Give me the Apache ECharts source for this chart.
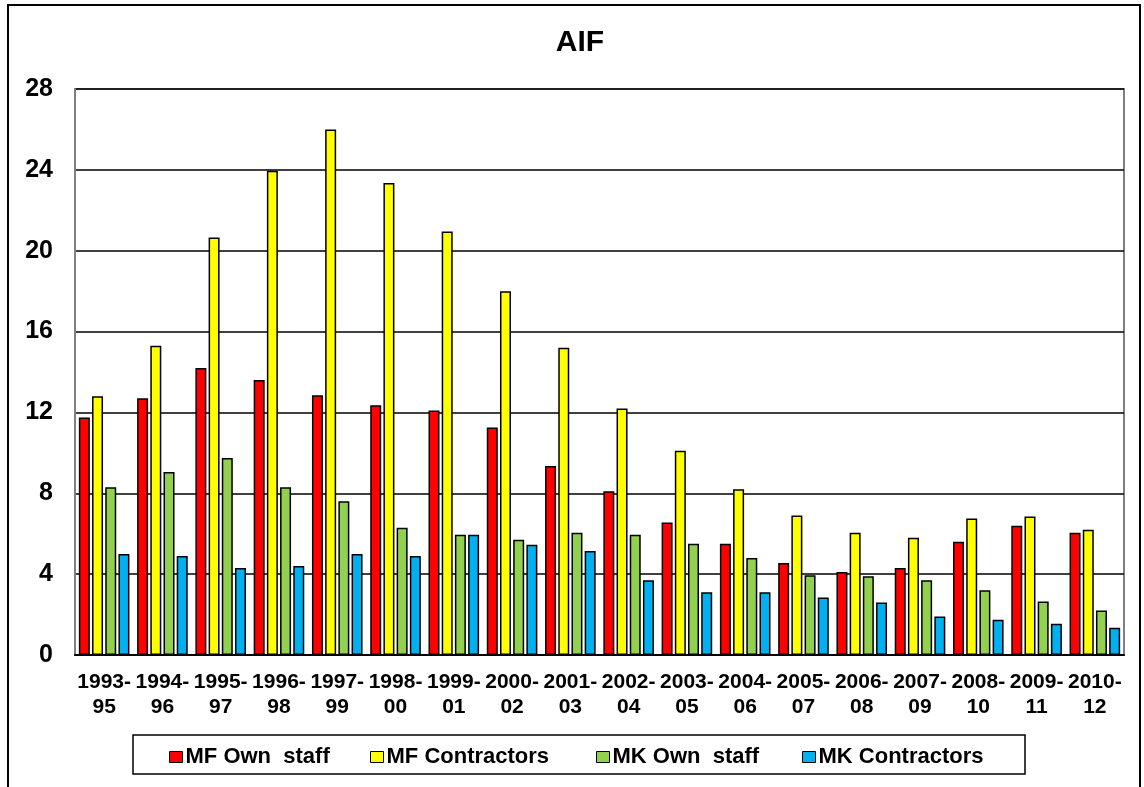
<!DOCTYPE html>
<html>
<head>
<meta charset="utf-8">
<script src="https://cdn.jsdelivr.net/npm/echarts@6/dist/echarts.min.js"></script>
<style>
  html, body { margin: 0; padding: 0; background: #fff; }
  #main { width: 1144px; height: 787px; }
</style>
</head>
<body>
<div id="main"></div>
<script>
// periods on the x axis
const periods = ['1993-\n95', '1994-\n96', '1995-\n97', '1996-\n98', '1997-\n99', '1998-\n00',
  '1999-\n01', '2000-\n02', '2001-\n03', '2002-\n04', '2003-\n05', '2004-\n06',
  '2005-\n07', '2006-\n08', '2007-\n09', '2008-\n10', '2009-\n11', '2010-\n12']

const mfOwnStaff = [11.75, 12.7, 14.2, 13.6, 12.85, 12.35, 12.1, 11.25, 9.35, 8.1, 6.55, 5.5, 4.55, 4.1, 4.3, 5.6, 6.4, 6.05]
const mfContractors = [12.8, 15.3, 20.65, 23.95, 26.0, 23.35, 20.95, 18.0, 15.2, 12.2, 10.1, 8.2, 6.9, 6.05, 5.8, 6.75, 6.85, 6.2]
const mkOwnStaff = [8.3, 9.05, 9.75, 8.3, 7.6, 6.3, 5.95, 5.7, 6.05, 5.95, 5.5, 4.8, 3.95, 3.9, 3.7, 3.2, 2.65, 2.2]
const mkContractors = [5.0, 4.9, 4.3, 4.4, 5.0, 4.9, 5.95, 5.45, 5.15, 3.7, 3.1, 3.1, 2.85, 2.6, 1.9, 1.75, 1.55, 1.35]

const yTicks = [0, 4, 8, 12, 16, 20, 24, 28]

const seriesNames = ['MF Own  staff', 'MF Contractors', 'MK Own  staff', 'MK Contractors']
const colors = ['#FF0000', '#FFFF00', '#92D050', '#00B0F0']
const font = 'Liberation Sans, Arial, sans-serif'

const myChart = echarts.init(document.getElementById('main'))

function bar (i, data) {
  return {
    name: seriesNames[i],
    type: 'bar',
    data: data,
    barWidth: 11,
    barGap: '20%',
    itemStyle: {
      color: colors[i],
      borderColor: '#000',
      borderWidth: 1.5
    }
  }
}

// one legend per item so each sits where the original puts it
const legendLefts = [169, 370, 596, 802]
const legends = seriesNames.map((name, i) => ({
  left: legendLefts[i],
  top: 746,
  padding: 0,
  itemWidth: 13,
  itemHeight: 11,
  itemGap: 0,
  icon: 'rect',
  itemStyle: { borderColor: '#000', borderWidth: 1 },
  textStyle: { fontFamily: font, fontSize: 22, fontWeight: 'bold', color: '#000', padding: [0, 0, 0, -2] },
  data: [name]
}))

const option = {
  animation: false,
  color: colors,
  title: {
    text: 'AIF',
    left: 575,
    textAlign: 'center',
    top: 23,
    textStyle: { fontFamily: font, fontSize: 30, fontWeight: 'bold', color: '#000' }
  },
  legend: legends,
  grid: {
    left: 75,
    top: 89,
    right: 20,
    bottom: 132,
    show: true,
    borderColor: '#808080',
    borderWidth: 2,
    containLabel: false
  },
  xAxis: {
    type: 'category',
    data: periods,
    axisTick: { show: false },
    axisLine: { lineStyle: { color: '#000', width: 2 } },
    axisLabel: {
      interval: 0,
      margin: 15,
      lineHeight: 25,
      fontFamily: font,
      fontSize: 21,
      fontWeight: 'bold',
      color: '#000'
    }
  },
  yAxis: {
    type: 'value',
    min: yTicks[0],
    max: yTicks[yTicks.length - 1],
    interval: 4,
    axisLine: { show: true, lineStyle: { color: '#808080', width: 2 } },
    axisTick: { show: false },
    splitLine: { lineStyle: { color: '#000', width: 1.5 } },
    axisLabel: {
      margin: 22,
      fontFamily: font,
      fontSize: 25,
      fontWeight: 'bold',
      color: '#000'
    }
  },
  graphic: [
    {
      type: 'rect',
      shape: { x: 8, y: 5, width: 1132, height: 800 },
      style: { fill: 'none', stroke: '#000', lineWidth: 2 },
      silent: true
    },
    {
      type: 'rect',
      shape: { x: 133, y: 735, width: 892, height: 39 },
      style: { fill: 'none', stroke: '#000', lineWidth: 1.5 },
      silent: true
    }
  ],
  series: [
    bar(0, mfOwnStaff),
    bar(1, mfContractors),
    bar(2, mkOwnStaff),
    bar(3, mkContractors)
  ]
}

myChart.setOption(option)
</script>
</body>
</html>
